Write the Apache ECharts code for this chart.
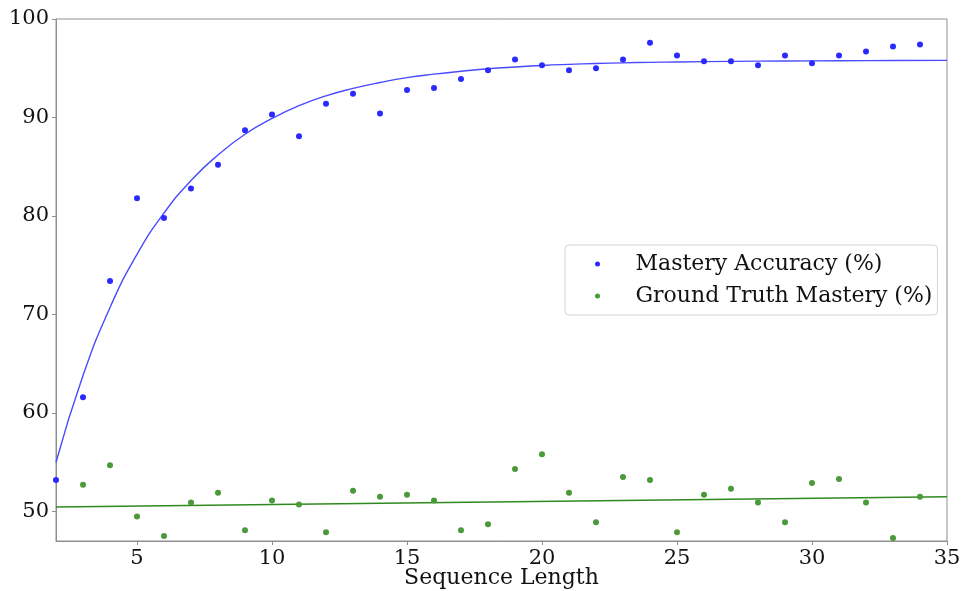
<!DOCTYPE html>
<html>
<head>
<meta charset="utf-8">
<script src="https://cdn.jsdelivr.net/npm/echarts@6/dist/echarts.min.js"></script>
<style>
  html, body { margin: 0; padding: 0; background: #fff; }
  #chart { width: 961px; height: 591px; }
</style>
</head>
<body>
<div id="chart"></div>
<script>
// sequence lengths for the scattered points
const seqLen = [2, 3, 4, 5, 6, 7, 8, 9, 10, 11, 12, 13, 14, 15, 16, 17, 18,
  19, 20, 21, 22, 23, 24, 25, 26, 27, 28, 29, 30, 31, 32, 33, 34];
const masteryAcc = [53.2, 61.6, 73.4, 81.8, 79.8, 82.8, 85.2, 88.7, 90.3, 88.1, 91.4,
  92.4, 90.4, 92.8, 93.0, 93.9, 94.8, 95.9, 95.3, 94.8, 95.0, 95.9, 97.6, 96.3,
  95.7, 95.7, 95.3, 96.3, 95.5, 96.3, 96.7, 97.2, 97.4];
// ground truth has no visible point at length 2
const gtLen = seqLen.slice(1);
const groundTruth = [52.7, 54.7, 49.5, 47.5, 50.9, 51.9, 48.1, 51.1, 50.7, 47.9,
  52.1, 51.5, 51.7, 51.1, 48.1, 48.7, 54.3, 55.8, 51.9, 48.9, 53.5, 53.2, 47.9,
  51.7, 52.3, 50.9, 48.9, 52.9, 53.3, 50.9, 47.3, 51.5];

// fitted curves
const fitLen = [2, 3, 4, 5, 6, 7, 8, 9, 10, 11, 12, 13, 14, 15, 16, 17, 18, 19,
  20, 21, 22, 23, 24, 25, 27, 29, 31, 33, 35];
const accFit = [55.0, 63.8, 70.7, 76.1, 80.3, 83.6, 86.2, 88.3, 89.9, 91.2, 92.2,
  92.95, 93.55, 94.05, 94.4, 94.7, 94.95, 95.13, 95.28, 95.39, 95.48, 95.55,
  95.6, 95.64, 95.7, 95.74, 95.76, 95.78, 95.8];
const gtFitLen = [2, 35];
const gtFit = [50.45, 51.5];

const xTicks = [5, 10, 15, 20, 25, 30, 35];
const yTicks = [50, 60, 70, 80, 90, 100];

const pairs = (xs, ys) => xs.map((x, i) => [x, ys[i]]);

const chart = echarts.init(document.getElementById('chart'));
const font = 'DejaVu Serif';
const frame = '#8f8f8f';

chart.setOption({
  animation: false,
  grid: {
    left: 56, right: 14, top: 19, bottom: 50,
    outerBoundsMode: 'none',
    show: true, borderColor: frame, borderWidth: 1
  },
  legend: {
    left: 565, top: 245,
    orient: 'vertical',
    data: ['Mastery Accuracy (%)', 'Ground Truth Mastery (%)'],
    icon: 'circle',
    itemWidth: 44, itemHeight: 5,
    itemGap: 6,
    padding: [6, 0, 6, 30],
    borderColor: '#d5d5d5', borderWidth: 1, borderRadius: 4,
    backgroundColor: '#fff',
    textStyle: {
      fontFamily: font, fontSize: 22, color: '#111',
      lineHeight: 26, padding: [0, 5, 0, 11]
    }
  },
  xAxis: {
    type: 'value', min: 2, max: 35,
    name: 'Sequence Length', nameLocation: 'middle', nameGap: 26,
    nameMoveOverlap: false,
    nameTextStyle: { fontFamily: font, fontSize: 22, color: '#111' },
    splitLine: { show: false },
    axisLine: { lineStyle: { color: frame } },
    axisTick: { customValues: xTicks, length: 4, lineStyle: { color: frame } },
    axisLabel: { customValues: xTicks, fontFamily: font, fontSize: 21, color: '#111', margin: 7 }
  },
  yAxis: {
    type: 'value', min: 47, max: 100,
    splitLine: { show: false },
    axisLine: { show: true, lineStyle: { color: frame } },
    axisTick: { show: true, customValues: yTicks, length: 4, lineStyle: { color: frame } },
    axisLabel: { customValues: yTicks, fontFamily: font, fontSize: 21, color: '#111', margin: 7 }
  },
  series: [
    {
      name: 'Mastery Accuracy (%)', type: 'scatter',
      data: pairs(seqLen, masteryAcc),
      symbolSize: 6, itemStyle: { color: '#2a2aff', opacity: 1 }, z: 4
    },
    {
      name: 'Ground Truth Mastery (%)', type: 'scatter',
      data: pairs(gtLen, groundTruth),
      symbolSize: 6, itemStyle: { color: '#4a9a3a', opacity: 1 }, z: 4
    },
    {
      name: 'accFit', type: 'line', data: pairs(fitLen, accFit),
      smooth: true, showSymbol: false, symbol: 'none',
      lineStyle: { color: '#4a4aff', width: 1.4 }, z: 3
    },
    {
      name: 'gtFit', type: 'line', data: pairs(gtFitLen, gtFit),
      showSymbol: false, symbol: 'none',
      lineStyle: { color: '#2e8a1e', width: 1.6 }, z: 3
    }
  ]
});
</script>
</body>
</html>
